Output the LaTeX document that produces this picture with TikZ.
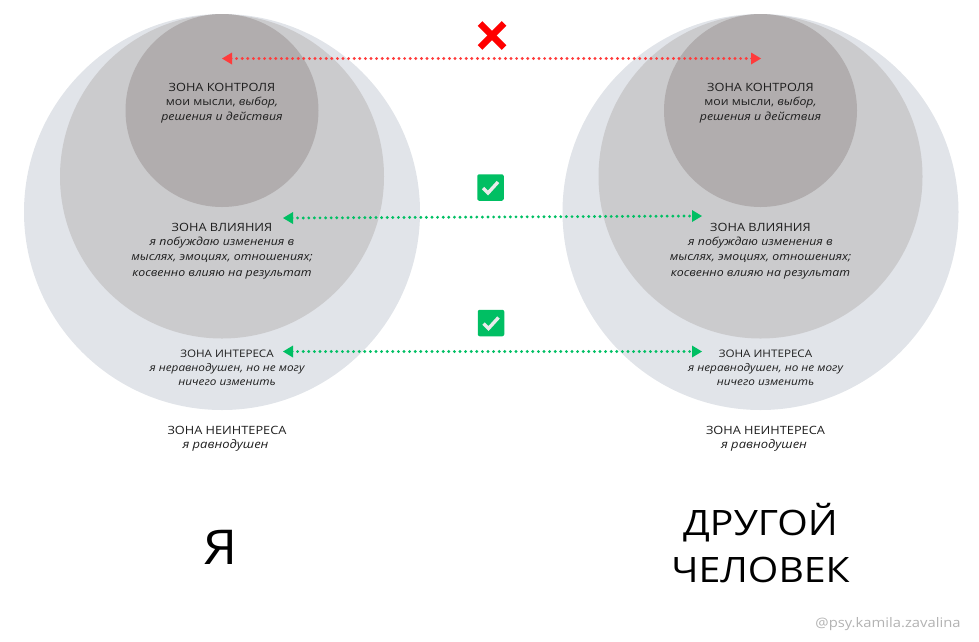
\documentclass[tikz,border=0pt]{standalone}
\usepackage{fontspec}
\setmainfont{Open Sans}[FakeStretch=1.12]
\usetikzlibrary{arrows.meta}
\definecolor{outerc}{HTML}{E1E4E9}
\definecolor{midc}{HTML}{CBCBCD}
\definecolor{innerc}{HTML}{B1ADAE}
\definecolor{redc}{HTML}{FF3B3B}
\definecolor{greenc}{HTML}{00BF63}
\definecolor{inkc}{HTML}{1E1E1E}
\tikzset{
 outerzone/.style={circle,fill=outerc,minimum size=396pt,inner sep=0pt},
 midzone/.style={circle,fill=midc,minimum size=324pt,inner sep=0pt},
 innerzone/.style={circle,fill=innerc,minimum size=193pt,inner sep=0pt},
 zonehead/.style={text=inkc,font=\fontsize{11.4}{13}\selectfont,inner sep=0pt},
 zonenote/.style={text=inkc,font=\fontsize{11}{15.2}\selectfont\itshape,align=center,inner sep=0pt},
 smallnote/.style={text=inkc,font=\fontsize{10.5}{13.6}\selectfont\itshape,align=center,inner sep=0pt},
 bigword/.style={text=black,font=\fontsize{35}{47}\selectfont,align=center,inner sep=0pt},
 dotlink/.style={line width=3.2pt,line cap=round,dash pattern=on 0pt off 5.6pt},
 redlink/.style={dotlink,draw=redc},
 greenlink/.style={dotlink,draw=greenc},
 okbox/.style={fill=greenc,rounded corners=2pt,minimum size=26.5pt,inner sep=0pt},
 okmark/.style={draw=black!8,line width=3.4pt},
}
\begin{document}
\begin{tikzpicture}[x=1pt,y=-1pt]
\useasboundingbox (0,0) rectangle (979,641);
% left circles
\node[outerzone] (lo) at (222,212) {};
\node[midzone] (lm) at (222,176.5) {};
\node[innerzone] (li) at (222,110.5) {};
% right circles
\node[outerzone] (ro) at (760.5,212) {};
\node[midzone] (rm) at (760.5,176.5) {};
\node[innerzone] (ri) at (760.5,110.5) {};
% anchors of links
\coordinate (a1) at (222,58.5);
\coordinate (b1) at (761,58.5);
\coordinate (a2) at (283,218);
\coordinate (b2) at (702,216);
\coordinate (a3) at (283,351.5);
\coordinate (b3) at (702,351.5);
% links
\draw[redlink] ([xshift=9pt]a1) -- ([xshift=-9pt]b1);
\fill[redc] (a1) -- ++(10,-6) -- ++(0,12) -- cycle;
\fill[redc] (b1) -- ++(-10,-6) -- ++(0,12) -- cycle;
\draw[greenlink] ([xshift=9pt]a2) -- ([xshift=-9pt]b2);
\fill[greenc] (a2) -- ++(10,-6) -- ++(0,12) -- cycle;
\fill[greenc] (b2) -- ++(-10,-6) -- ++(0,12) -- cycle;
\draw[greenlink] ([xshift=9pt]a3) -- ([xshift=-9pt]b3);
\fill[greenc] (a3) -- ++(10,-6) -- ++(0,12) -- cycle;
\fill[greenc] (b3) -- ++(-10,-6) -- ++(0,12) -- cycle;
% cross
\coordinate (x1) at (480,23.5);
\coordinate (x2) at (504,47.5);
\coordinate (x3) at (504,23.5);
\coordinate (x4) at (480,47.5);
\draw[red,line width=6.5pt] (x1) -- (x2);
\draw[red,line width=6.5pt] (x3) -- (x4);
% checks
\node[okbox] (ok1) at (490.5,187.5) {};
\draw[okmark] ([shift={(-7.5,0.5)}]ok1.center) -- ++(5,5) -- ++(10,-11);
\node[okbox] (ok2) at (491,323) {};
\draw[okmark] ([shift={(-7.5,0.5)}]ok2.center) -- ++(5,5) -- ++(10,-11);
% left labels
\node[zonehead] (t1) at (222,87) {ЗОНА КОНТРОЛЯ};
\node[zonenote] (n1) at (222,110.5) {{\upshape мои мысли,} выбор,\\решения и действия};
\node[zonehead] (t2) at (222,227) {ЗОНА ВЛИЯНИЯ};
\node[zonenote] (n2) at (222,258) {я побуждаю изменения в\\мыслях, эмоциях, отношениях;\\косвенно влияю на результат};
\node[zonehead,font=\fontsize{10.4}{12}\selectfont] (t3) at (227,353.5) {ЗОНА ИНТЕРЕСА};
\node[smallnote] (n3) at (227,374.5) {я неравнодушен, но не могу\\ничего изменить};
\node[zonehead] (t4) at (227,430) {ЗОНА НЕИНТЕРЕСА};
\node[smallnote,font=\fontsize{11.6}{14}\selectfont\itshape] (n4) at (225.5,445.5) {я равнодушен};
\node[bigword,font=\fontsize{48}{50}\selectfont] (me) at (221,547) {Я};
% right labels
\node[zonehead] (rt1) at (760.5,87) {ЗОНА КОНТРОЛЯ};
\node[zonenote] (rn1) at (760.5,110.5) {{\upshape мои мысли,} выбор,\\решения и действия};
\node[zonehead] (rt2) at (760.5,227) {ЗОНА ВЛИЯНИЯ};
\node[zonenote] (rn2) at (760.5,258) {я побуждаю изменения в\\мыслях, эмоциях, отношениях;\\косвенно влияю на результат};
\node[zonehead,font=\fontsize{10.4}{12}\selectfont] (rt3) at (765.5,353.5) {ЗОНА ИНТЕРЕСА};
\node[smallnote] (rn3) at (765.5,374.5) {я неравнодушен, но не могу\\ничего изменить};
\node[zonehead] (rt4) at (765.5,430) {ЗОНА НЕИНТЕРЕСА};
\node[smallnote,font=\fontsize{11.6}{14}\selectfont\itshape] (rn4) at (764,445.5) {я равнодушен};
\node[bigword] (other) at (760.5,543) {ДРУГОЙ\\ЧЕЛОВЕК};
\node[text=black!30,font=\fontsize{13.2}{15}\selectfont,inner sep=0pt] (tag) at (888,624) {@psy.kamila.zavalina};
\end{tikzpicture}
\end{document}
